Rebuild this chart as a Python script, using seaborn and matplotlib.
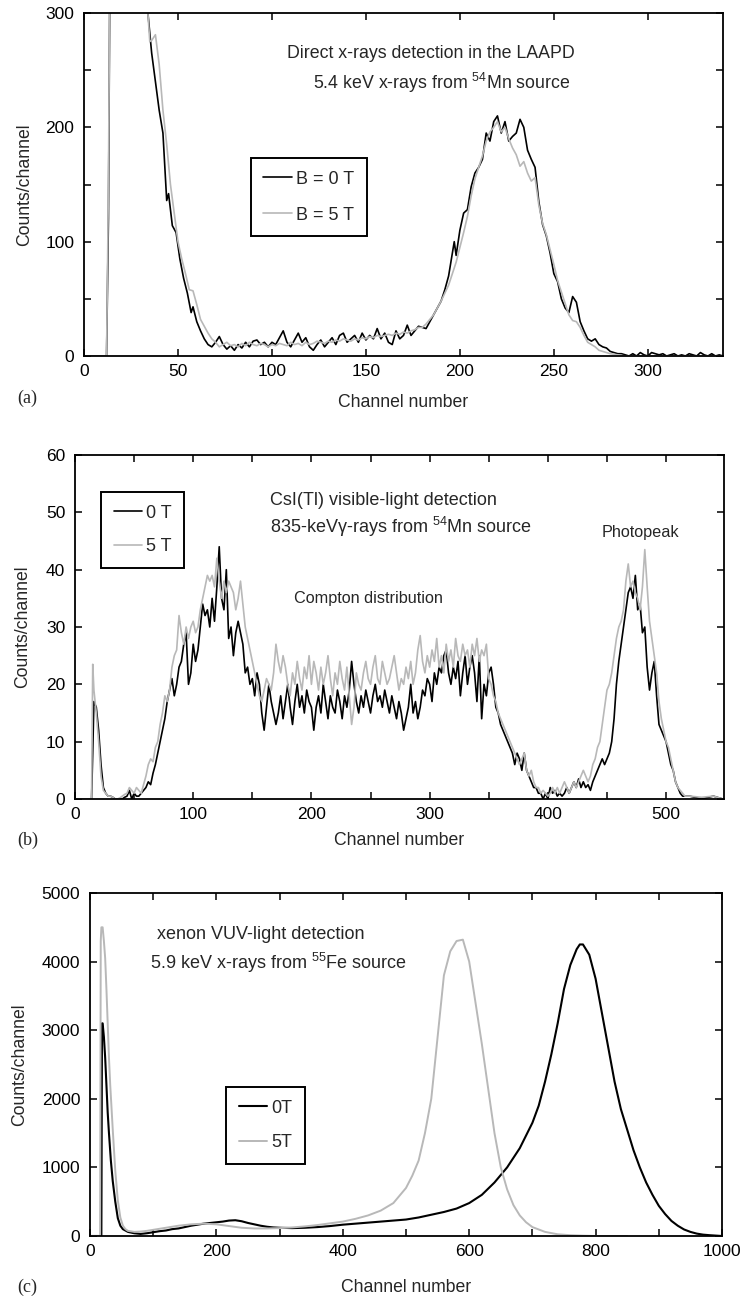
import numpy as np
import pandas as pd
import matplotlib
matplotlib.use("Agg")
import matplotlib.pyplot as plt
from matplotlib.ticker import MultipleLocator
import seaborn as sns

# ---- panel (a): direct x-rays in the LAAPD ----
a_channels_0t = [0, 10, 12, 13, 14, 32, 34, 36, 38, 40, 42, 44, 45, 47, 49, 51, 53, 55, 57, 58,
                 60, 62, 64, 66, 68, 70, 72, 74, 76, 78, 80, 82, 84, 86, 88, 90, 92, 94, 96, 98,
                 100, 102, 104, 106, 108, 110, 112, 114, 116, 118, 120, 122, 124, 126, 128, 130,
                 132, 134, 136, 138, 140, 142, 144, 146, 148, 150, 152, 154, 156, 158, 160, 162,
                 164, 166, 168, 170, 172, 174, 176, 178, 180, 182, 184, 186, 188, 190, 192, 194,
                 196, 197, 198, 200, 202, 204, 206, 208, 210, 212, 214, 216, 218, 220, 222, 224,
                 226, 228, 230, 232, 234, 236, 238, 240, 241, 242, 244, 246, 248, 250, 252, 254,
                 256, 258, 260, 262, 264, 266, 268, 270, 272, 274, 276, 278, 280, 282, 284, 286,
                 288, 290, 292, 294, 296, 298, 300, 302, 304, 306, 308, 310, 312, 314, 316, 318,
                 320, 322, 324, 326, 328, 330, 332, 334, 336, 338, 340]
a_counts_0t = [0, 0, 0, 120, 400, 400, 300, 265, 240, 215, 195, 136, 142, 114, 108, 85, 68, 55, 38, 43,
               30, 22, 15, 10, 8, 12, 17, 10, 6, 9, 5, 10, 7, 12, 8, 13, 14, 10, 12, 8,
               12, 10, 16, 22, 12, 8, 14, 20, 12, 16, 8, 5, 10, 14, 8, 12,
               16, 10, 18, 20, 12, 15, 18, 12, 20, 14, 18, 15, 24, 15, 20, 12,
               10, 22, 15, 18, 27, 18, 22, 26, 25, 24, 30, 36, 42, 48, 58, 70,
               90, 100, 88, 110, 125, 128, 148, 160, 165, 172, 195, 188, 205, 210, 195, 205,
               188, 192, 195, 207, 200, 180, 172, 165, 150, 135, 115, 105, 90, 72, 65, 50,
               42, 38, 52, 47, 30, 22, 15, 13, 15, 10, 8, 7, 4, 3, 2, 2,
               1, 0, 2, 0, 3, 1, 0, 3, 2, 1, 2, 0, 1, 2, 0, 1,
               0, 2, 1, 0, 3, 1, 0, 2, 0, 1, 0]

a_channels_5t = [0, 11, 12, 13, 14, 33, 34, 35, 36, 38, 40, 42, 44, 46, 48, 50, 52, 54, 56, 58,
                 60, 62, 64, 66, 68, 70, 72, 74, 76, 78, 80, 82, 84, 86, 88, 90, 92, 94, 96, 98,
                 100, 102, 104, 106, 108, 110, 112, 114, 116, 118, 120, 122, 124, 126, 128, 130,
                 132, 134, 136, 138, 140, 142, 144, 146, 148, 150, 152, 154, 156, 158, 160, 162,
                 164, 166, 168, 170, 172, 174, 176, 178, 180, 182, 184, 186, 188, 190, 192, 194,
                 196, 198, 200, 202, 204, 206, 208, 210, 212, 214, 216, 218, 220, 222, 224, 226,
                 228, 230, 232, 234, 236, 238, 240, 242, 244, 246, 248, 250, 252, 254, 256, 258,
                 260, 262, 264, 266, 268, 270, 272, 274, 276, 278, 280, 284, 288, 292, 340]
a_counts_5t = [0, 0, 0, 150, 400, 400, 300, 275, 276, 281, 255, 215, 185, 150, 125, 100, 85, 72, 58, 57,
               45, 32, 26, 20, 15, 12, 8, 10, 12, 9, 10, 8, 11, 9, 12, 10, 9, 11, 10, 8,
               10, 9, 11, 10, 9, 12, 10, 11, 9, 12, 10, 11, 13, 12, 11, 13,
               12, 14, 13, 15, 14, 13, 15, 14, 16, 15, 17, 16, 18, 17, 18, 19,
               18, 20, 19, 21, 20, 22, 23, 25, 25, 28, 32, 36, 42, 48, 55, 62,
               72, 82, 95, 108, 122, 140, 155, 165, 175, 188, 196, 200, 205, 196, 200, 190,
               182, 176, 166, 170, 160, 153, 156, 132, 116, 106, 93, 80, 66, 56, 46, 36,
               31, 30, 25, 18, 12, 10, 8, 5, 4, 3, 2, 1, 0, 0, 0]

# ---- panel (b): CsI(Tl) visible-light detection ----
b_channels = [0, 12, 14, 15,
              16, 18, 20, 22, 24, 26, 28, 30, 32, 34, 36, 38, 40, 42, 44, 46, 48, 50, 52, 54,
              56, 58, 60, 62, 64, 66, 68, 70, 72, 74, 76, 78, 80, 82, 84, 86, 88, 90, 92, 94,
              96, 98, 100, 102, 104, 106, 108, 110, 112, 114, 116, 118, 120, 122, 124, 126, 128,
              130, 132, 134, 136, 138, 140, 142, 144, 146, 148, 150, 152, 154, 156, 158, 160,
              162, 164, 166, 168, 170, 172, 174, 176, 178, 180, 182, 184, 186, 188, 190, 192,
              194, 196, 198, 200, 202, 204, 206, 208, 210, 212, 214, 216, 218, 220, 222, 224,
              226, 228, 230, 232, 234, 236, 238, 240, 242, 244, 246, 248, 250, 252, 254, 256,
              258, 260, 262, 264, 266, 268, 270, 272, 274, 276, 278, 280, 282, 284, 286, 288,
              290, 292, 294, 296, 298, 300, 302, 304, 306, 308, 310, 312, 314, 316, 318, 320,
              322, 324, 326, 328, 330, 332, 334, 336, 338, 340, 342, 344, 346, 348, 350, 352,
              354, 356, 358, 360, 362, 364, 366, 368, 370, 372, 374, 376, 378, 380, 382, 384,
              386, 388, 390, 392, 394, 396, 398, 400, 402, 404, 406, 408, 410, 412, 414, 416,
              418, 420, 422, 424, 426, 428, 430, 432, 434, 436, 438, 440, 442, 444, 446, 448,
              450, 452, 454, 456, 458, 460, 462, 464, 466, 468, 470, 472, 474, 476, 478, 480,
              482, 484, 486, 488, 490, 492, 494, 496, 498, 500, 502, 504, 506, 508, 510, 512,
              514, 516, 520, 530, 540, 548]
b_counts_0t = [0, 0, 0, 8,
               17, 16, 12, 6, 2, 1, 0.5, 0.5, 0.3, 0, 0, 0, 0, 0.3, 0.5, 1.5, 0, 1, 0.5, 0.5,
               1, 1.5, 2, 3, 2.5, 4.5, 6, 8, 10, 12, 14, 17, 19, 21, 18, 20, 23, 24, 27, 29,
               20, 22, 27, 24, 26, 30, 34, 32, 33, 30, 35, 31, 37, 44, 35, 33, 40,
               28, 30, 25, 29, 31, 29, 27, 22, 23, 20, 21, 18, 22, 20, 15, 12,
               16, 20, 17, 15, 13, 15, 18, 14, 17, 20, 16, 13, 17, 20, 16, 18,
               15, 19, 17, 16, 12, 16, 18, 15, 20, 17, 14, 18, 16, 15, 19, 17,
               14, 18, 16, 19, 24, 20, 17, 15, 18, 16, 19, 17, 15, 18, 20, 17,
               18, 16, 19, 17, 15, 18, 16, 14, 17, 15, 12, 14, 16, 20, 15, 17,
               14, 16, 19, 18, 21, 20, 17, 22, 20, 23, 22, 25, 26, 22, 20, 23,
               21, 24, 18, 22, 25, 20, 23, 25, 22, 17, 25, 14, 20, 18, 22, 23,
               20, 16, 15, 13, 12, 11, 10, 9, 8, 6, 8, 7, 5, 8, 5, 4,
               3, 2, 2, 1, 1, 0, 1, 0, 2, 1, 1.5, 0.5, 1, 0.5, 1, 2,
               1, 2, 3, 2, 3.5, 2, 3, 2, 2.5, 1.5, 3, 4, 5, 6, 7, 6,
               7, 8, 10, 14, 20, 24, 27, 30, 33, 36, 37, 35, 39, 33, 34, 29,
               30, 23, 19, 22, 24, 18, 13, 12, 11, 10, 8, 6, 5, 3, 2, 1,
               0.5, 0.5, 0.5, 0, 0.5, 0]
b_counts_5t = [0, 0, 0, 23.5,
               19, 15, 10, 4, 1.5, 1, 0.5, 0.5, 0.3, 0, 0, 0.2, 0.5, 0.8, 1, 2, 1.5, 1, 2, 1.5,
               1, 2.5, 4, 6, 7, 6.5, 9, 10, 13, 15, 18, 17, 19, 23, 25, 26, 32, 29, 27, 30,
               28, 30, 31, 29, 30, 33, 35, 37, 39, 38, 39, 37, 42, 38, 35, 38, 36,
               38, 37, 36, 33, 35, 38, 34, 30, 28, 26, 24, 22, 20, 18, 17, 19,
               21, 20, 19, 22, 27, 24, 22, 25, 23, 20, 18, 22, 20, 24, 21, 19,
               23, 21, 25, 20, 24, 22, 19, 23, 20, 22, 25, 21, 18, 22, 20, 24,
               21, 19, 23, 18, 13, 16, 22, 20, 19, 22, 24, 21, 20, 23, 25, 21,
               20, 24, 22, 20, 21, 23, 25, 22, 19, 21, 20, 23, 21, 24, 20, 22,
               26, 28.5, 24, 22, 25, 23, 26, 24, 28, 23, 25, 22, 27, 24, 26, 23,
               28, 25, 24, 27, 25, 26, 23, 27, 25, 28, 24, 26, 25, 27, 21, 20,
               18, 17, 15, 14, 13, 12, 11, 10, 9, 8, 7, 6, 7, 8, 5, 4,
               5, 3, 2, 2, 1, 1.5, 1, 0.5, 1, 2, 1, 2, 1, 2, 3, 2,
               1, 2, 3, 2, 3, 4, 5, 4, 3, 4, 6, 7, 9, 10, 13, 16,
               19, 20, 22, 25, 28, 30, 31, 33, 38, 41, 37, 38, 36, 35, 33, 37,
               43.5, 37, 31, 28, 25, 22, 17, 14, 12, 10, 9, 7, 5, 3, 2, 1.5,
               1, 0.5, 0.5, 0.3, 0.5, 0]

# ---- panel (c): xenon VUV-light detection ----
c_channels_0t = [0, 17, 18, 19, 20, 22, 24, 26, 28, 30, 33, 36, 40, 44, 48, 52, 56, 60, 70, 80,
                 90, 100, 110, 120, 130, 140, 150, 160, 170, 180, 190, 200, 210, 220, 230, 240,
                 250, 260, 270, 280, 290, 300, 320, 340, 360, 380, 400, 420, 440, 460, 480, 500,
                 520, 540, 560, 580, 600, 620, 640, 660, 680, 700, 710, 720, 730, 740, 750, 760,
                 770, 775, 780, 790, 800, 810, 820, 830, 840, 850, 860, 870, 880, 890, 900, 910,
                 920, 930, 940, 950, 960, 970, 980, 990, 1000]
c_counts_0t = [0, 0, 0, 3100, 3100, 2900, 2600, 2200, 1800, 1500, 1100, 800, 500, 260, 150, 100, 80, 60, 40, 30,
               40, 55, 70, 80, 100, 110, 130, 150, 165, 180, 190, 200, 210, 225, 230, 215,
               190, 170, 150, 135, 125, 120, 115, 120, 130, 145, 165, 180, 195, 210, 225, 240,
               270, 310, 350, 400, 480, 600, 780, 1000, 1280, 1650, 1900, 2250, 2650, 3100, 3600, 3950,
               4180, 4250, 4250, 4100, 3750, 3250, 2750, 2250, 1850, 1550, 1250, 1000, 780, 600, 440, 320,
               220, 150, 95, 60, 35, 20, 12, 6, 0]

c_channels_5t = [0, 15, 16, 17, 18, 20, 22, 24, 26, 28, 30, 32, 36, 40, 44, 48, 52, 56, 60, 70,
                 80, 90, 100, 120, 140, 160, 180, 200, 220, 240, 260, 280, 300, 320, 340, 360,
                 380, 400, 420, 440, 460, 480, 500, 510, 520, 530, 540, 550, 560, 570, 580, 590,
                 600, 610, 620, 630, 640, 650, 660, 670, 680, 690, 700, 720, 740, 760, 780, 800, 850]
c_counts_5t = [0, 0, 0, 4300, 4500, 4500, 4300, 4050, 3600, 3100, 2600, 2200, 1550, 950, 520, 270, 150, 100, 75, 60,
               65, 75, 90, 120, 150, 170, 180, 170, 145, 120, 110, 110, 115, 125, 140, 160,
               185, 210, 250, 300, 370, 480, 700, 880, 1100, 1500, 2000, 2900, 3800, 4150, 4300, 4320,
               4000, 3400, 2800, 2150, 1500, 1000, 680, 450, 300, 200, 130, 60, 25, 12, 5, 0, 0]

BLACK = "#000000"
GREY = "#b8b8b8"

sns.set_theme(style="ticks")
plt.rcParams["font.family"] = ["Liberation Sans", "DejaVu Sans"]
plt.rcParams["mathtext.fontset"] = "custom"
plt.rcParams["mathtext.rm"] = "Liberation Sans"
plt.rcParams["mathtext.it"] = "Liberation Sans:italic"
plt.rcParams["axes.linewidth"] = 1.2
plt.rcParams["axes.edgecolor"] = "black"

fig = plt.figure(figsize=(7.43, 12.98), dpi=100)

W, H = 743, 1298


def make_axes(left, right, top, bottom):
    return fig.add_axes([left / W, 1 - bottom / H, (right - left) / W, (bottom - top) / H])


def style_axes(ax):
    ax.tick_params(axis="both", which="both", direction="in", top=True, right=True,
                   length=5, width=1.1, labelsize=12.5, color="black", labelcolor="black")
    ax.tick_params(axis="x", which="both", pad=6)
    ax.tick_params(axis="y", which="both", pad=7)
    for sp in ax.spines.values():
        sp.set_visible(True)
        sp.set_linewidth(1.3)
        sp.set_color("black")


def draw_pair(ax, x0, y0, x5, y5, lab0, lab5, lw0=1.2, lw5=1.2):
    df0 = pd.DataFrame({"channel": x0, "counts": y0})
    df5 = pd.DataFrame({"channel": x5, "counts": y5})
    sns.lineplot(data=df0, x="channel", y="counts", ax=ax, color=BLACK, lw=lw0,
                 estimator=None, sort=False, label=lab0)
    sns.lineplot(data=df5, x="channel", y="counts", ax=ax, color=GREY, lw=lw5,
                 estimator=None, sort=False, label=lab5)


def add_legend(ax, anchor, spacing):
    leg = ax.legend(loc="upper left", bbox_to_anchor=anchor, frameon=True, fancybox=False,
                    framealpha=1, edgecolor="black", fontsize=13, handlelength=1.6,
                    handletextpad=0.2, labelspacing=spacing, borderpad=0.7, borderaxespad=0)
    leg.get_frame().set_linewidth(1.4)
    return leg


# ---- (a) ----
ax_a = make_axes(84, 723, 13, 356)
draw_pair(ax_a, a_channels_0t, a_counts_0t, a_channels_5t, a_counts_5t, "B = 0 T", "B = 5 T")
ax_a.set_xlim(0, 340)
ax_a.set_ylim(0, 300)
ax_a.xaxis.set_major_locator(MultipleLocator(50))
ax_a.yaxis.set_major_locator(MultipleLocator(100))
ax_a.yaxis.set_minor_locator(MultipleLocator(50))
style_axes(ax_a)
add_legend(ax_a, (0.261, 0.577), 1.05)
ax_a.text(0.543, 0.883, "Direct x-rays detection in the LAAPD", transform=ax_a.transAxes,
          ha="center", va="center", fontsize=12.8)
ax_a.text(0.560, 0.796, "5.4 keV x-rays from $^{54}$Mn source", transform=ax_a.transAxes,
          ha="center", va="center", fontsize=12.8)

# ---- (b) ----
ax_b = make_axes(75, 724, 455, 799)
draw_pair(ax_b, b_channels, b_counts_0t, b_channels, b_counts_5t, "0 T", "5 T")
ax_b.set_xlim(0, 549)
ax_b.set_ylim(0, 60)
ax_b.xaxis.set_major_locator(MultipleLocator(100))
ax_b.xaxis.set_minor_locator(MultipleLocator(50))
ax_b.yaxis.set_major_locator(MultipleLocator(10))
style_axes(ax_b)
add_legend(ax_b, (0.040, 0.892), 0.9)
ax_b.text(0.300, 0.869, "CsI(Tl) visible-light detection", transform=ax_b.transAxes,
          ha="left", va="center", fontsize=13)
ax_b.text(0.300, 0.791, "835-keV\u03b3-rays from $^{54}$Mn source", transform=ax_b.transAxes,
          ha="left", va="center", fontsize=13)
ax_b.text(0.452, 0.584, "Compton distribution", transform=ax_b.transAxes,
          ha="center", va="center", fontsize=11.7)
ax_b.text(0.871, 0.776, "Photopeak", transform=ax_b.transAxes,
          ha="center", va="center", fontsize=11.7)

# ---- (c) ----
ax_c = make_axes(90, 722, 893, 1236)
draw_pair(ax_c, c_channels_0t, c_counts_0t, c_channels_5t, c_counts_5t, "0T", "5T",
          lw0=1.5, lw5=1.4)
ax_c.set_xlim(0, 1000)
ax_c.set_ylim(0, 5000)
ax_c.xaxis.set_major_locator(MultipleLocator(200))
ax_c.xaxis.set_minor_locator(MultipleLocator(100))
ax_c.yaxis.set_major_locator(MultipleLocator(1000))
style_axes(ax_c)
add_legend(ax_c, (0.215, 0.434), 0.95)
ax_c.text(0.106, 0.880, "xenon VUV-light detection", transform=ax_c.transAxes,
          ha="left", va="center", fontsize=13)
ax_c.text(0.095, 0.796, "5.9 keV x-rays from $^{55}$Fe source", transform=ax_c.transAxes,
          ha="left", va="center", fontsize=13)

# axis labels and panel tags
for ax, ylab_x, xlab_y, tag, tag_y in [
    (ax_a, -0.080, -0.111, "(a)", 398),
    (ax_b, -0.068, -0.096, "(b)", 840),
    (ax_c, -0.098, -0.125, "(c)", 1287),
]:
    ax.set_xlabel("Channel number", fontsize=12.7)
    ax.set_ylabel("Counts/channel", fontsize=12.7)
    ax.xaxis.set_label_coords(0.5, xlab_y)
    ax.yaxis.set_label_coords(ylab_x, 0.5)
    fig.text(17 / W, 1 - tag_y / H, tag, family=["Liberation Serif", "DejaVu Serif"],
             fontsize=13, ha="left", va="center")

fig.savefig("out.png", dpi=100)
